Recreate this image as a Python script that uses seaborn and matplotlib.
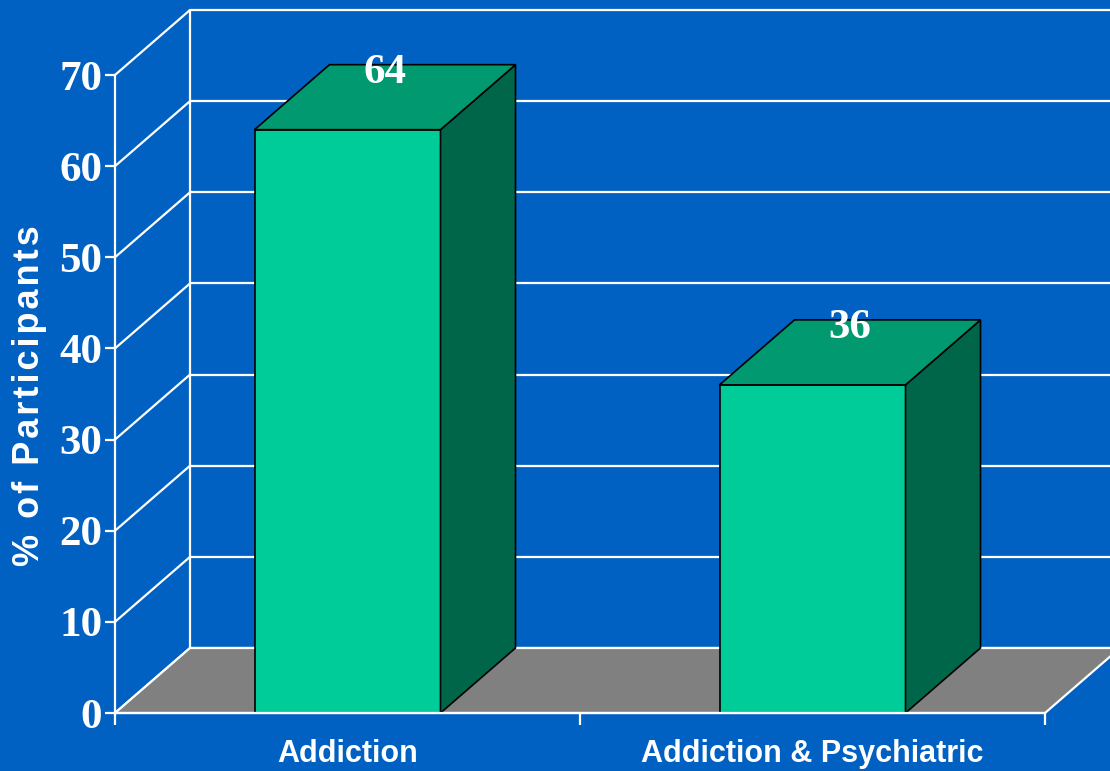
import matplotlib
matplotlib.use("Agg")
import matplotlib.pyplot as plt
import seaborn as sns
import pandas as pd
from matplotlib.patches import Polygon

# ---- data ----
categories = ["Addiction", "Addiction & Psychiatric"]
values = [64, 36]
yticks = [0, 10, 20, 30, 40, 50, 60, 70]
ylabel = "% of Participants"

# ---- style ----
BG = "#0061C2"
FRONT = "#00CC99"
TOP = "#009970"
SIDE = "#00664A"
FLOOR = "#808080"

sns.set_theme(style="white")
plt.rcParams["font.family"] = ["Liberation Sans", "DejaVu Sans"]

W, H = 1110, 771
fig = plt.figure(figsize=(W / 100, H / 100), dpi=100, facecolor=BG)
ax = fig.add_axes([115 / W, 58 / H, 930 / W, 638 / H])
ax.set_facecolor("none")

df = pd.DataFrame({"cat": categories, "val": values})
sns.barplot(data=df, x="cat", y="val", order=categories, color=FRONT, saturation=1,
            width=0.4, edgecolor="black", linewidth=1.2, ax=ax, zorder=4)
bars = list(ax.patches)

ax.set_xlim(-0.5, 1.5)
ax.set_ylim(0, 70)

# depth offsets in data units (3D look)
DX = 75 / 465
DY = 65 / (638 / 70)

x_left, x_right = -0.5, 1.5
# back wall gridlines and left wall diagonals
for t in yticks:
    ax.plot([x_left + DX, x_right + DX + 0.2], [t + DY, t + DY], color="white",
            lw=1.6, clip_on=False, zorder=1)
    ax.plot([x_left, x_left + DX], [t, t + DY], color="white", lw=1.6,
            clip_on=False, zorder=1)
ax.plot([x_left + DX, x_left + DX], [DY, yticks[-1] + DY], color="white", lw=1.6,
        clip_on=False, zorder=1)

# floor
floor = Polygon([(x_left, 0), (x_right, 0), (x_right + DX, DY), (x_left + DX, DY)],
                closed=True, facecolor=FLOOR, edgecolor="white", lw=1.6,
                clip_on=False, zorder=2)
ax.add_patch(floor)

# 3D faces for bars
for p in bars:
    x0, w, h = p.get_x(), p.get_width(), p.get_height()
    top = Polygon([(x0, h), (x0 + w, h), (x0 + w + DX, h + DY), (x0 + DX, h + DY)],
                  closed=True, facecolor=TOP, edgecolor="black", lw=1.2, zorder=4,
                  clip_on=False)
    side = Polygon([(x0 + w, 0), (x0 + w + DX, DY), (x0 + w + DX, h + DY), (x0 + w, h)],
                   closed=True, facecolor=SIDE, edgecolor="black", lw=1.2, zorder=4,
                   clip_on=False)
    ax.add_patch(side)
    ax.add_patch(top)
    ax.text(x0 + w / 2 + DX / 2, h + DY - 2, f"{h:.0f}", ha="center", va="baseline",
            fontsize=31, fontweight="bold", family=["Liberation Serif", "DejaVu Serif"],
            color="white", zorder=6, clip_on=False)

# axes styling
for s in ["top", "right"]:
    ax.spines[s].set_visible(False)
for s in ["left", "bottom"]:
    ax.spines[s].set_color("white")
    ax.spines[s].set_linewidth(1.6)
    ax.spines[s].set_zorder(5)

ax.set_yticks(yticks)
ax.set_yticklabels([str(t) for t in yticks])
ax.tick_params(axis="y", colors="white", length=7.2, width=1.6, pad=2, labelsize=31, left=True)
for lab in ax.get_yticklabels():
    lab.set_family(["Liberation Serif", "DejaVu Serif"])
    lab.set_fontweight("bold")

ax.set_xticks([0, 1])
ax.set_xticklabels(categories)
ax.set_xticks([-0.5, 0.5, 1.5], minor=True)
ax.tick_params(axis="x", which="major", length=0, pad=19, colors="white", labelsize=22)
ax.tick_params(axis="x", which="minor", length=8.6, width=1.6, color="white", bottom=True)
for lab in ax.get_xticklabels():
    lab.set_family(["Liberation Sans", "DejaVu Sans"])
    lab.set_fontweight("bold")

ax.set_xlabel("")
ax.set_ylabel("")

spaced = "\u200a".join(ylabel)
fig.text(30 / W, 1 - 396 / H, spaced, rotation=90, ha="center", va="center",
         fontsize=26, fontweight="bold", color="white",
         family=["Liberation Sans", "DejaVu Sans"])

fig.savefig("out.png", dpi=100, facecolor=BG)
